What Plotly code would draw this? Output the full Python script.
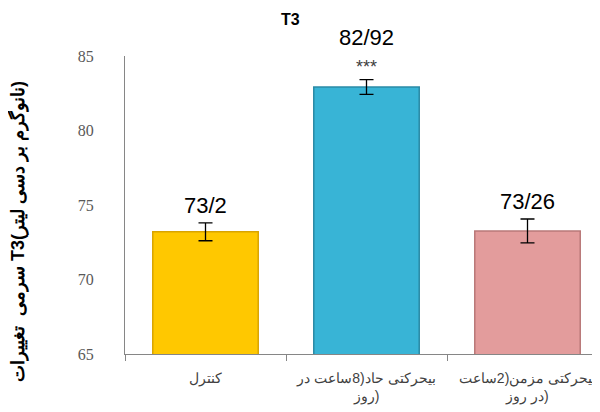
import plotly.graph_objects as go

categories = ["کنترل", "بیحرکتی حاد(8ساعت در<br>روز)", "بیحرکتی مزمن(2ساعت<br>در روز)"]
means = [73.2, 82.92, 73.26]
errors = [0.6, 0.5, 0.8]
significance = ["", "***", ""]
bar_colors = ["#FFC800", "#38B4D6", "#E39C9C"]
edge_colors = ["#D9A400", "#2A8AA6", "#B97878"]
value_labels = [str(v).replace(".", "/") for v in means]
y_ticks = [65, 70, 75, 80, 85]

fig = go.Figure()
fig.add_trace(go.Bar(
    x=categories, y=means, width=0.655,
    marker=dict(color=bar_colors, line=dict(color=edge_colors, width=1.5)),
    error_y=dict(type="data", array=errors, visible=True, color="#000000", thickness=1.3, width=7),
    cliponaxis=False,
))

for c, m, e, lab, sig in zip(categories, means, errors, value_labels, significance):
    if sig:
        fig.add_annotation(x=c, y=m + e, xref="x", yref="y", text=sig, showarrow=False,
                           yanchor="bottom", yshift=1, font=dict(family="Arial", size=18, color="#404040"))
        fig.add_annotation(x=c, y=m + e, xref="x", yref="y", text=lab, showarrow=False,
                           yanchor="bottom", yshift=28, font=dict(family="Arial", size=22, color="#000000"))
    else:
        fig.add_annotation(x=c, y=m + e, xref="x", yref="y", text=lab, showarrow=False,
                           yanchor="bottom", yshift=3, font=dict(family="Arial", size=22, color="#000000"))

fig.add_annotation(text="<b>T3</b>", xref="paper", yref="paper", x=0.342, y=1.121,
                   xanchor="center", yanchor="middle",
                   showarrow=False, font=dict(family="Arial", size=16, color="#000000"))
fig.add_annotation(text="<b>سرمی  تغییرات T3(نانوگرم بر دسی لیتر)</b>", xref="paper", yref="paper",
                   x=-0.2215, y=0.409, xanchor="center", yanchor="middle", textangle=-90, showarrow=False,
                   font=dict(family="Arial", size=18, color="#000000"))

fig.update_layout(
    width=600, height=412,
    margin=dict(l=117, r=0, t=48, b=66, autoexpand=False),
    paper_bgcolor="white", plot_bgcolor="white",
    showlegend=False,
    xaxis=dict(range=[-0.5, 2.5], showline=True, linecolor="#868686", linewidth=1, automargin=False,
               ticks="outside", tickson="boundaries", ticklen=6, tickcolor="#868686",
               ticklabelstandoff=11,
               tickfont=dict(family="Arial", size=14, color="#404040"), showgrid=False),
    yaxis=dict(range=[65, 85], tickvals=y_ticks, showline=True, linecolor="#868686", linewidth=1,
               showgrid=False, zeroline=False, ticks="", ticklabelstandoff=27, automargin=False,
               tickfont=dict(family="Liberation Serif", size=16, color="#595959")),
)

fig.write_html("out.html")
